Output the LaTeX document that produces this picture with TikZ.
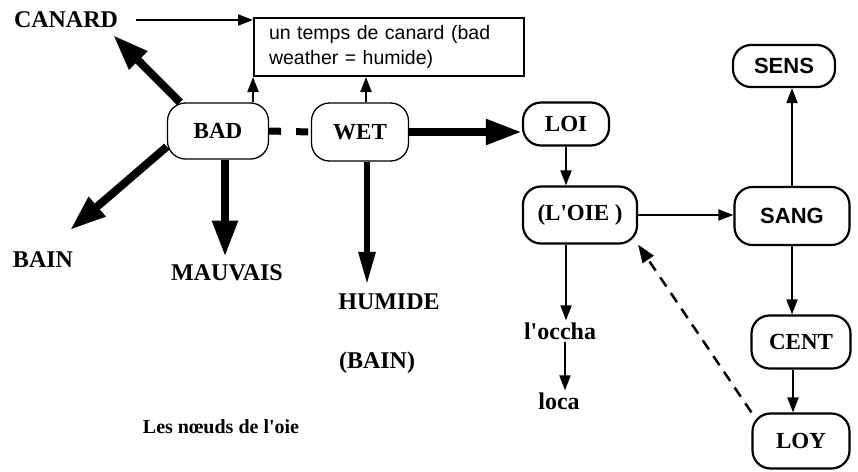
\documentclass[tikz,border=0pt]{standalone}
\usepackage{fontspec}
\setmainfont{Liberation Serif}
\setsansfont{Liberation Sans}
\usepackage{tikz}
\usetikzlibrary{arrows.meta,positioning}

\begin{document}
\begin{tikzpicture}[
  x=1pt, y=-1pt,
  word/.style={
    inner sep=2pt,
    font=\fontsize{24}{26}\selectfont\bfseries
  },
  pill/.style={
    draw,
    rounded corners=18pt,
    line width=2.2pt,
    inner sep=0pt,
    font=\fontsize{23}{25}\selectfont\bfseries
  },
  thinpill/.style={pill,line width=1.3pt},
  sanspill/.style={pill,font=\fontsize{22}{24}\selectfont\sffamily\bfseries},
  link/.style={-{Triangle[length=15pt,width=11pt]},line width=2pt},
  fat/.style={-{Triangle[length=36pt,width=24pt]},line width=8pt},
  hint/.style={-{Triangle[length=18pt,width=13pt]},line width=2.5pt,dash pattern=on 11pt off 8pt}
]
\useasboundingbox (0,0) rectangle (858,471);

% left part
\node[word] (canard) at (66,20) {CANARD};
\node[draw,line width=2pt,anchor=north west,minimum width=270pt,minimum height=58pt,
  inner xsep=15pt,align=left,text width=240pt,
  font=\fontsize{19.5}{25}\selectfont\sffamily] (meteo) at (253,17)
  {un temps de canard (bad\\weather = humide)};
\node[thinpill,minimum width=101pt,minimum height=56pt] (bad) at (218,131) {BAD};
\node[thinpill,minimum width=97pt,minimum height=58pt] (wet) at (360,132) {WET};
\node[word] (bain) at (43,260) {BAIN};
\node[word] (mauvais) at (227,273) {MAUVAIS};
\node[word] (humide) at (389,302) {HUMIDE};
\node[word] (bainbis) at (377,363) {(BAIN)};
\node[word,font=\fontsize{20}{22}\selectfont\bfseries] (titre) at (221,427) {Les nœuds de l\textquotesingle oie};

% right part
\node[pill,minimum width=86pt,minimum height=43pt] (loi) at (566,124) {LOI};
\node[pill,minimum width=114pt,minimum height=57pt] (loie) at (580,215) {(L\textquotesingle OIE )};
\node[sanspill,minimum width=115pt,minimum height=58pt] (sang) at (792,216) {SANG};
\node[sanspill,minimum width=102pt,minimum height=42pt] (sens) at (784,66) {SENS};
\node[pill,minimum width=99pt,minimum height=53pt] (cent) at (801,342) {CENT};
\node[pill,minimum width=97pt,minimum height=55pt] (loy) at (801,441) {LOY};
\node[word] (occha) at (560,331) {l\textquotesingle occha};
\node[word] (loca) at (559,401) {loca};

\draw[link,shorten <=16pt] (canard.east) -- (canard.east -| meteo.west);
\draw[link] (bad.north -| meteo.south west) -- (meteo.south west);
\draw[link] ([xshift=6pt]wet.north) -- ([xshift=6pt]wet.north |- meteo.south);
\draw[line width=7pt,dash pattern=on 12pt off 15pt] (bad.east) -- (wet.east -| wet.west);
\draw[fat] (wet.east) -- (wet.east -| loi.west);
\draw[fat] (bad.143) -- ([shift={(47,15)}]canard.center);
\draw[fat] (bad.197) -- ([shift={(27,-30)}]bain.center);
\draw[fat,shorten >=6pt] ([xshift=7pt]bad.south) -- ([xshift=7pt]bad.south |- mauvais.north);
\draw[fat,line width=6pt,-{Triangle[length=33pt,width=16pt]},shorten >=7pt]
  ([xshift=7pt]wet.south) -- ([xshift=7pt]wet.south |- humide.north);

\draw[link] (loi.south) -- (loi.south |- loie.north);
\draw[link] (loie.east) -- (loie.east -| sang.west);
\draw[link] (sang.north) -- (sang.north |- sens.south);
\draw[link] (sang.south) -- (sang.south |- cent.north);
\draw[link] ([xshift=-8pt]cent.south) -- ([xshift=-8pt]cent.south |- loy.north);
\draw[hint] (loy.north west) -- (loie.south east);
\draw[link] (loi.south |- loie.south) -- (loi.south |- occha.north);
\draw[link] ([xshift=5pt]occha.south) -- ([xshift=5pt]occha.south |- loca.north);
\end{tikzpicture}
\end{document}
